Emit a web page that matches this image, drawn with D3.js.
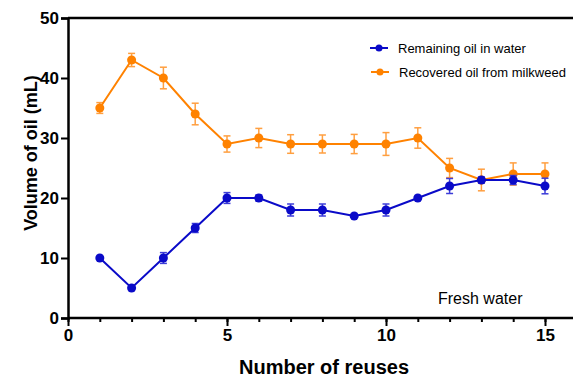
<!DOCTYPE html>
<html>
<head>
<meta charset="utf-8">
<script src="https://cdn.jsdelivr.net/npm/d3@7"></script>
<style>
  body { margin: 0; background: #fff; }
  svg { display: block; font-family: "Liberation Sans", Arial, sans-serif; }
</style>
</head>
<body>
<div class="chart"></div>
<script>
'use strict';
var reuses = [1, 2, 3, 4, 5, 6, 7, 8, 9, 10, 11, 12, 13, 14, 15];
var remaining = [10, 5, 10, 15, 20, 20, 18, 18, 17, 18, 20, 22, 23, 23, 22];
var remainingErr = [0, 0, 0.9, 0.75, 0.9, 0.5, 1.0, 1.0, 0, 1.0, 0, 1.25, 0.5, 0.75, 1.3];
var recovered = [35, 43, 40, 34, 29, 30, 29, 29, 29, 29, 30, 25, 23, 24, 24];
var recoveredErr = [0.9, 1.1, 1.8, 1.8, 1.35, 1.6, 1.55, 1.5, 1.6, 1.9, 1.7, 1.6, 1.8, 1.85, 1.85];
var seriesNames = ['Remaining oil in water', 'Recovered oil from milkweed'];
var xTicks = [0, 5, 10, 15];
var yTicks = [0, 10, 20, 30, 40, 50];

(function() {
  var W = 573, H = 377;
  var mLeft = 68, mTop = 18, mBottom = 318;

  var x = d3.scaleLinear().domain([0, 16]).range([mLeft, mLeft + 16 * 31.8]);
  var y = d3.scaleLinear().domain([0, 50]).range([mBottom, mTop]);

  var svg = d3.select('.chart').append('svg')
    .attr('width', W)
    .attr('height', H);

  // top frame line
  svg.append('line')
    .attr('x1', mLeft).attr('x2', W)
    .attr('y1', y(50)).attr('y2', y(50))
    .attr('stroke', '#000').attr('stroke-width', 2.5);

  // y axis
  var yAxis = svg.append('g')
    .attr('transform', 'translate(' + mLeft + ',0)')
    .call(d3.axisLeft(y).tickValues(yTicks).tickSize(7).tickPadding(2));
  yAxis.select('.domain').attr('stroke-width', 2.5);
  yAxis.selectAll('.tick line').attr('stroke-width', 2);
  yAxis.selectAll('text')
    .attr('font-family', '"Liberation Sans", Arial, sans-serif')
    .attr('font-size', 17).attr('font-weight', 'bold').attr('fill', '#000');

  // x axis, minor ticks at each integer
  var xAxis = svg.append('g')
    .attr('transform', 'translate(0,' + mBottom + ')')
    .call(d3.axisBottom(x).tickValues(d3.range(0, 17)).tickSize(4).tickFormat(''));
  xAxis.select('.domain').attr('stroke-width', 2.5).attr('d', 'M' + mLeft + ',0H' + W);
  xAxis.selectAll('.tick line').attr('stroke-width', 2);

  var xMajor = svg.append('g')
    .attr('transform', 'translate(0,' + mBottom + ')')
    .call(d3.axisBottom(x).tickValues(xTicks).tickSize(8).tickPadding(3));
  xMajor.select('.domain').remove();
  xMajor.selectAll('.tick line').attr('stroke-width', 2);
  xMajor.selectAll('text')
    .attr('font-family', '"Liberation Sans", Arial, sans-serif')
    .attr('font-size', 17).attr('font-weight', 'bold').attr('fill', '#000');

  // axis titles
  svg.append('text')
    .attr('x', 324).attr('y', 374)
    .attr('text-anchor', 'middle')
    .attr('font-size', 20).attr('font-weight', 'bold')
    .text('Number of reuses');

  svg.append('text')
    .attr('transform', 'translate(37,153) rotate(-90)')
    .attr('text-anchor', 'middle')
    .attr('font-size', 18).attr('font-weight', 'bold')
    .text('Volume of oil (mL)');

  var series = [
    {vals: recovered, err: recoveredErr, color: '#ff8200', errColor: '#ff9f40'},
    {vals: remaining, err: remainingErr, color: '#0a0ac8', errColor: '#3c3cd8'}
  ];

  var line = d3.line()
    .x(function(d) { return x(d[0]); })
    .y(function(d) { return y(d[1]); });

  series.forEach(function(s) {
    var pts = reuses.map(function(r, i) { return [r, s.vals[i], s.err[i]]; });
    var g = svg.append('g');
    var eb = g.selectAll('.err')
      .data(pts.filter(function(d) { return d[2] > 0; }))
      .enter().append('g')
      .attr('stroke', s.errColor).attr('stroke-width', 1.5);
    eb.append('line')
      .attr('x1', function(d) { return x(d[0]); })
      .attr('x2', function(d) { return x(d[0]); })
      .attr('y1', function(d) { return y(d[1] - d[2]); })
      .attr('y2', function(d) { return y(d[1] + d[2]); });
    [-1, 1].forEach(function(sign) {
      eb.append('line')
        .attr('x1', function(d) { return x(d[0]) - 3.5; })
        .attr('x2', function(d) { return x(d[0]) + 3.5; })
        .attr('y1', function(d) { return y(d[1] + sign * d[2]); })
        .attr('y2', function(d) { return y(d[1] + sign * d[2]); });
    });
    g.append('path')
      .datum(pts)
      .attr('fill', 'none')
      .attr('stroke', s.color)
      .attr('stroke-width', 2)
      .attr('d', line);
    g.selectAll('circle')
      .data(pts)
      .enter().append('circle')
      .attr('cx', function(d) { return x(d[0]); })
      .attr('cy', function(d) { return y(d[1]); })
      .attr('r', 4.5)
      .attr('fill', s.color);
  });

  // legend
  var legendData = [
    {name: seriesNames[0], color: '#0a0ac8', y: 48, x: 370},
    {name: seriesNames[1], color: '#ff8200', y: 72, x: 371}
  ];
  var lg = svg.selectAll('.legend')
    .data(legendData)
    .enter().append('g');
  lg.append('line')
    .attr('x1', function(d) { return d.x; })
    .attr('x2', function(d) { return d.x + 18; })
    .attr('y1', function(d) { return d.y; })
    .attr('y2', function(d) { return d.y; })
    .attr('stroke', function(d) { return d.color; })
    .attr('stroke-width', 2);
  lg.append('circle')
    .attr('cx', function(d) { return d.x + 9; })
    .attr('cy', function(d) { return d.y; })
    .attr('r', 3.5)
    .attr('fill', function(d) { return d.color; });
  lg.append('text')
    .attr('x', function(d) { return d.x + 28; })
    .attr('y', function(d) { return d.y + 4.5; })
    .attr('font-size', 13)
    .text(function(d) { return d.name; });

  svg.append('text')
    .attr('x', 438).attr('y', 304)
    .attr('font-size', 16)
    .text('Fresh water');
})();
</script>
</body>
</html>
